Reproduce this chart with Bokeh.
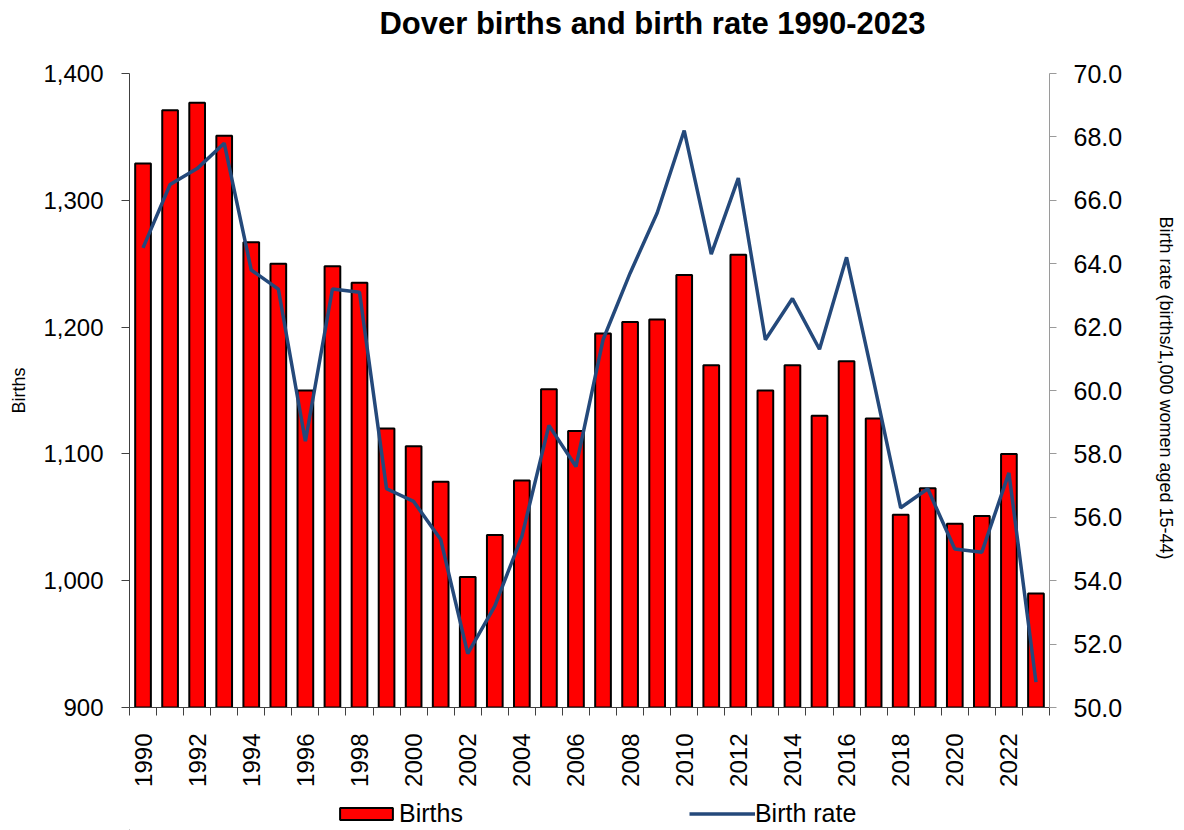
from bokeh.plotting import figure
from bokeh.layouts import column
from bokeh.models import (Range1d, LinearAxis, FixedTicker, NumeralTickFormatter,
                          Legend, LegendItem, ColumnDataSource, Label)
from bokeh.embed import file_html
from bokeh.resources import INLINE
import math

years = list(range(1990, 2024))
births = [1329, 1371, 1377, 1351, 1267, 1250, 1150, 1248, 1235, 1120,
          1106, 1078, 1003, 1036, 1079, 1151, 1118, 1195, 1204, 1206,
          1241, 1170, 1257, 1150, 1170, 1130, 1173, 1128, 1052, 1073,
          1045, 1051, 1100, 990]
birth_rate = [64.5, 66.5, 67.0, 67.8, 63.8, 63.2, 58.4, 63.2, 63.1, 56.9,
              56.5, 55.3, 51.7, 53.2, 55.4, 58.9, 57.6, 61.6, 63.7, 65.6,
              68.2, 64.3, 66.7, 61.6, 62.9, 61.3, 64.2, 60.3, 56.3, 56.9,
              55.0, 54.9, 57.4, 50.8]
year_labels = years[::2]
births_ticks = [900, 1000, 1100, 1200, 1300, 1400]
rate_ticks = [50, 52, 54, 56, 58, 60, 62, 64, 66, 68, 70]
title_text = "Dover births and birth rate 1990-2023"

FONT = "Liberation Sans"
BAR_FILL = "#FF0000"
LINE_COLOR = "#24497B"
W = 1184
TOP_H = 44
MAIN_H = 746
LEG_H = 40
BORDER_L = 129
BORDER_R = 135


def strip(height):
    f = figure(width=W, height=height, output_backend="svg", toolbar_location=None,
               title=None,
               x_range=Range1d(BORDER_L, W - BORDER_R), y_range=Range1d(0, height),
               min_border_left=BORDER_L, min_border_right=BORDER_R,
               min_border_top=0, min_border_bottom=0,
               x_axis_type=None, y_axis_type=None)
    f.outline_line_color = None
    f.xgrid.visible = False
    f.ygrid.visible = False
    f.background_fill_color = "white"
    f.border_fill_color = "white"
    return f


# ---- title strip ----
pt = strip(TOP_H)
pt.add_layout(Label(x=652, y=TOP_H - 23.3, x_units="data", y_units="data",
                    text=title_text, text_align="center", text_baseline="middle",
                    text_font=FONT, text_font_size="31px", text_font_style="bold",
                    text_color="black"))

# ---- main chart ----
src = ColumnDataSource(dict(year=years, births=births, rate=birth_rate))

p = figure(width=W, height=MAIN_H, output_backend="svg", toolbar_location=None,
           x_range=Range1d(years[0] - 0.5, years[-1] + 0.5),
           y_range=Range1d(900, 1400),
           min_border_left=BORDER_L, min_border_right=BORDER_R,
           min_border_top=73 - TOP_H, min_border_bottom=83)
p.outline_line_color = None
p.xgrid.visible = False
p.ygrid.visible = False
p.background_fill_color = "white"
p.border_fill_color = "white"

p.extra_y_ranges = {"rate": Range1d(50, 70)}

p.vbar(x="year", top="births", bottom=900, width=0.58, source=src,
       fill_color=BAR_FILL, line_color="black", line_width=2)
p.line(x="year", y="rate", source=src, y_range_name="rate",
       line_color=LINE_COLOR, line_width=3.5)

# X axis
xa = p.xaxis[0]
xa.ticker = FixedTicker(ticks=year_labels,
                        minor_ticks=[y - 0.5 for y in years] + [years[-1] + 0.5])
xa.major_tick_out = 0
xa.major_tick_in = 0
xa.minor_tick_out = 8
xa.minor_tick_in = 0
xa.minor_tick_line_color = "#404040"
xa.axis_line_color = "#404040"
xa.major_label_orientation = math.pi / 2
xa.major_label_text_font = FONT
xa.major_label_text_font_size = "24px"
xa.major_label_text_color = "black"
xa.major_label_standoff = 18

# Left axis
ya = p.yaxis[0]
ya.ticker = FixedTicker(ticks=births_ticks)
ya.formatter = NumeralTickFormatter(format="0,0")
ya.minor_tick_line_color = None
ya.major_tick_out = 8
ya.major_tick_in = 0
ya.major_tick_line_color = "#404040"
ya.axis_line_color = "#404040"
ya.major_label_text_font = FONT
ya.major_label_text_font_size = "24px"
ya.major_label_text_color = "black"
ya.major_label_standoff = 18
ya.axis_label = "Births"
ya.axis_label_text_font = FONT
ya.axis_label_text_font_size = "18px"
ya.axis_label_text_font_style = "normal"
ya.axis_label_text_color = "black"
ya.axis_label_standoff = 11

# Right axis
ra = LinearAxis(y_range_name="rate", ticker=FixedTicker(ticks=rate_ticks),
                formatter=NumeralTickFormatter(format="0.0"))
ra.minor_tick_line_color = None
ra.major_tick_out = 7
ra.major_tick_in = 0
ra.major_tick_line_color = "#9A9A9A"
ra.axis_line_color = "#9A9A9A"
ra.major_label_text_font = FONT
ra.major_label_text_font_size = "25px"
ra.major_label_text_color = "black"
ra.major_label_standoff = 17
ra.axis_label = "Birth rate  (births/1,000 women aged 15-44)"
ra.axis_label_text_font = FONT
ra.axis_label_text_font_size = "18px"
ra.axis_label_text_font_style = "normal"
ra.axis_label_text_color = "black"
ra.axis_label_standoff = 31
p.add_layout(ra, "right")

# ---- legend strip ----
pl = strip(LEG_H)
# legend-swatch renderers, kept outside the visible range
lb = pl.vbar(x=[0], top=[-10], bottom=[-11], width=1, fill_color=BAR_FILL,
             line_color="black", line_width=2)
ll = pl.line(x=[0, 1], y=[-10, -10], line_color=LINE_COLOR, line_width=3.5)

legend = Legend(items=[LegendItem(label="Births", renderers=[lb]),
                       LegendItem(label="Birth rate", renderers=[ll])],
                orientation="horizontal", location=(204, 2.5),
                padding=0, margin=0, spacing=226,
                glyph_width=66, glyph_height=15, label_height=15,
                label_standoff=0, label_text_font=FONT,
                label_text_font_size="25px", label_text_baseline="middle",
                label_text_color="black",
                border_line_color=None, background_fill_alpha=0)
pl.add_layout(legend, "center")

layout = column(pt, p, pl, spacing=0)
open("out.html", "w").write(file_html(layout, INLINE))
